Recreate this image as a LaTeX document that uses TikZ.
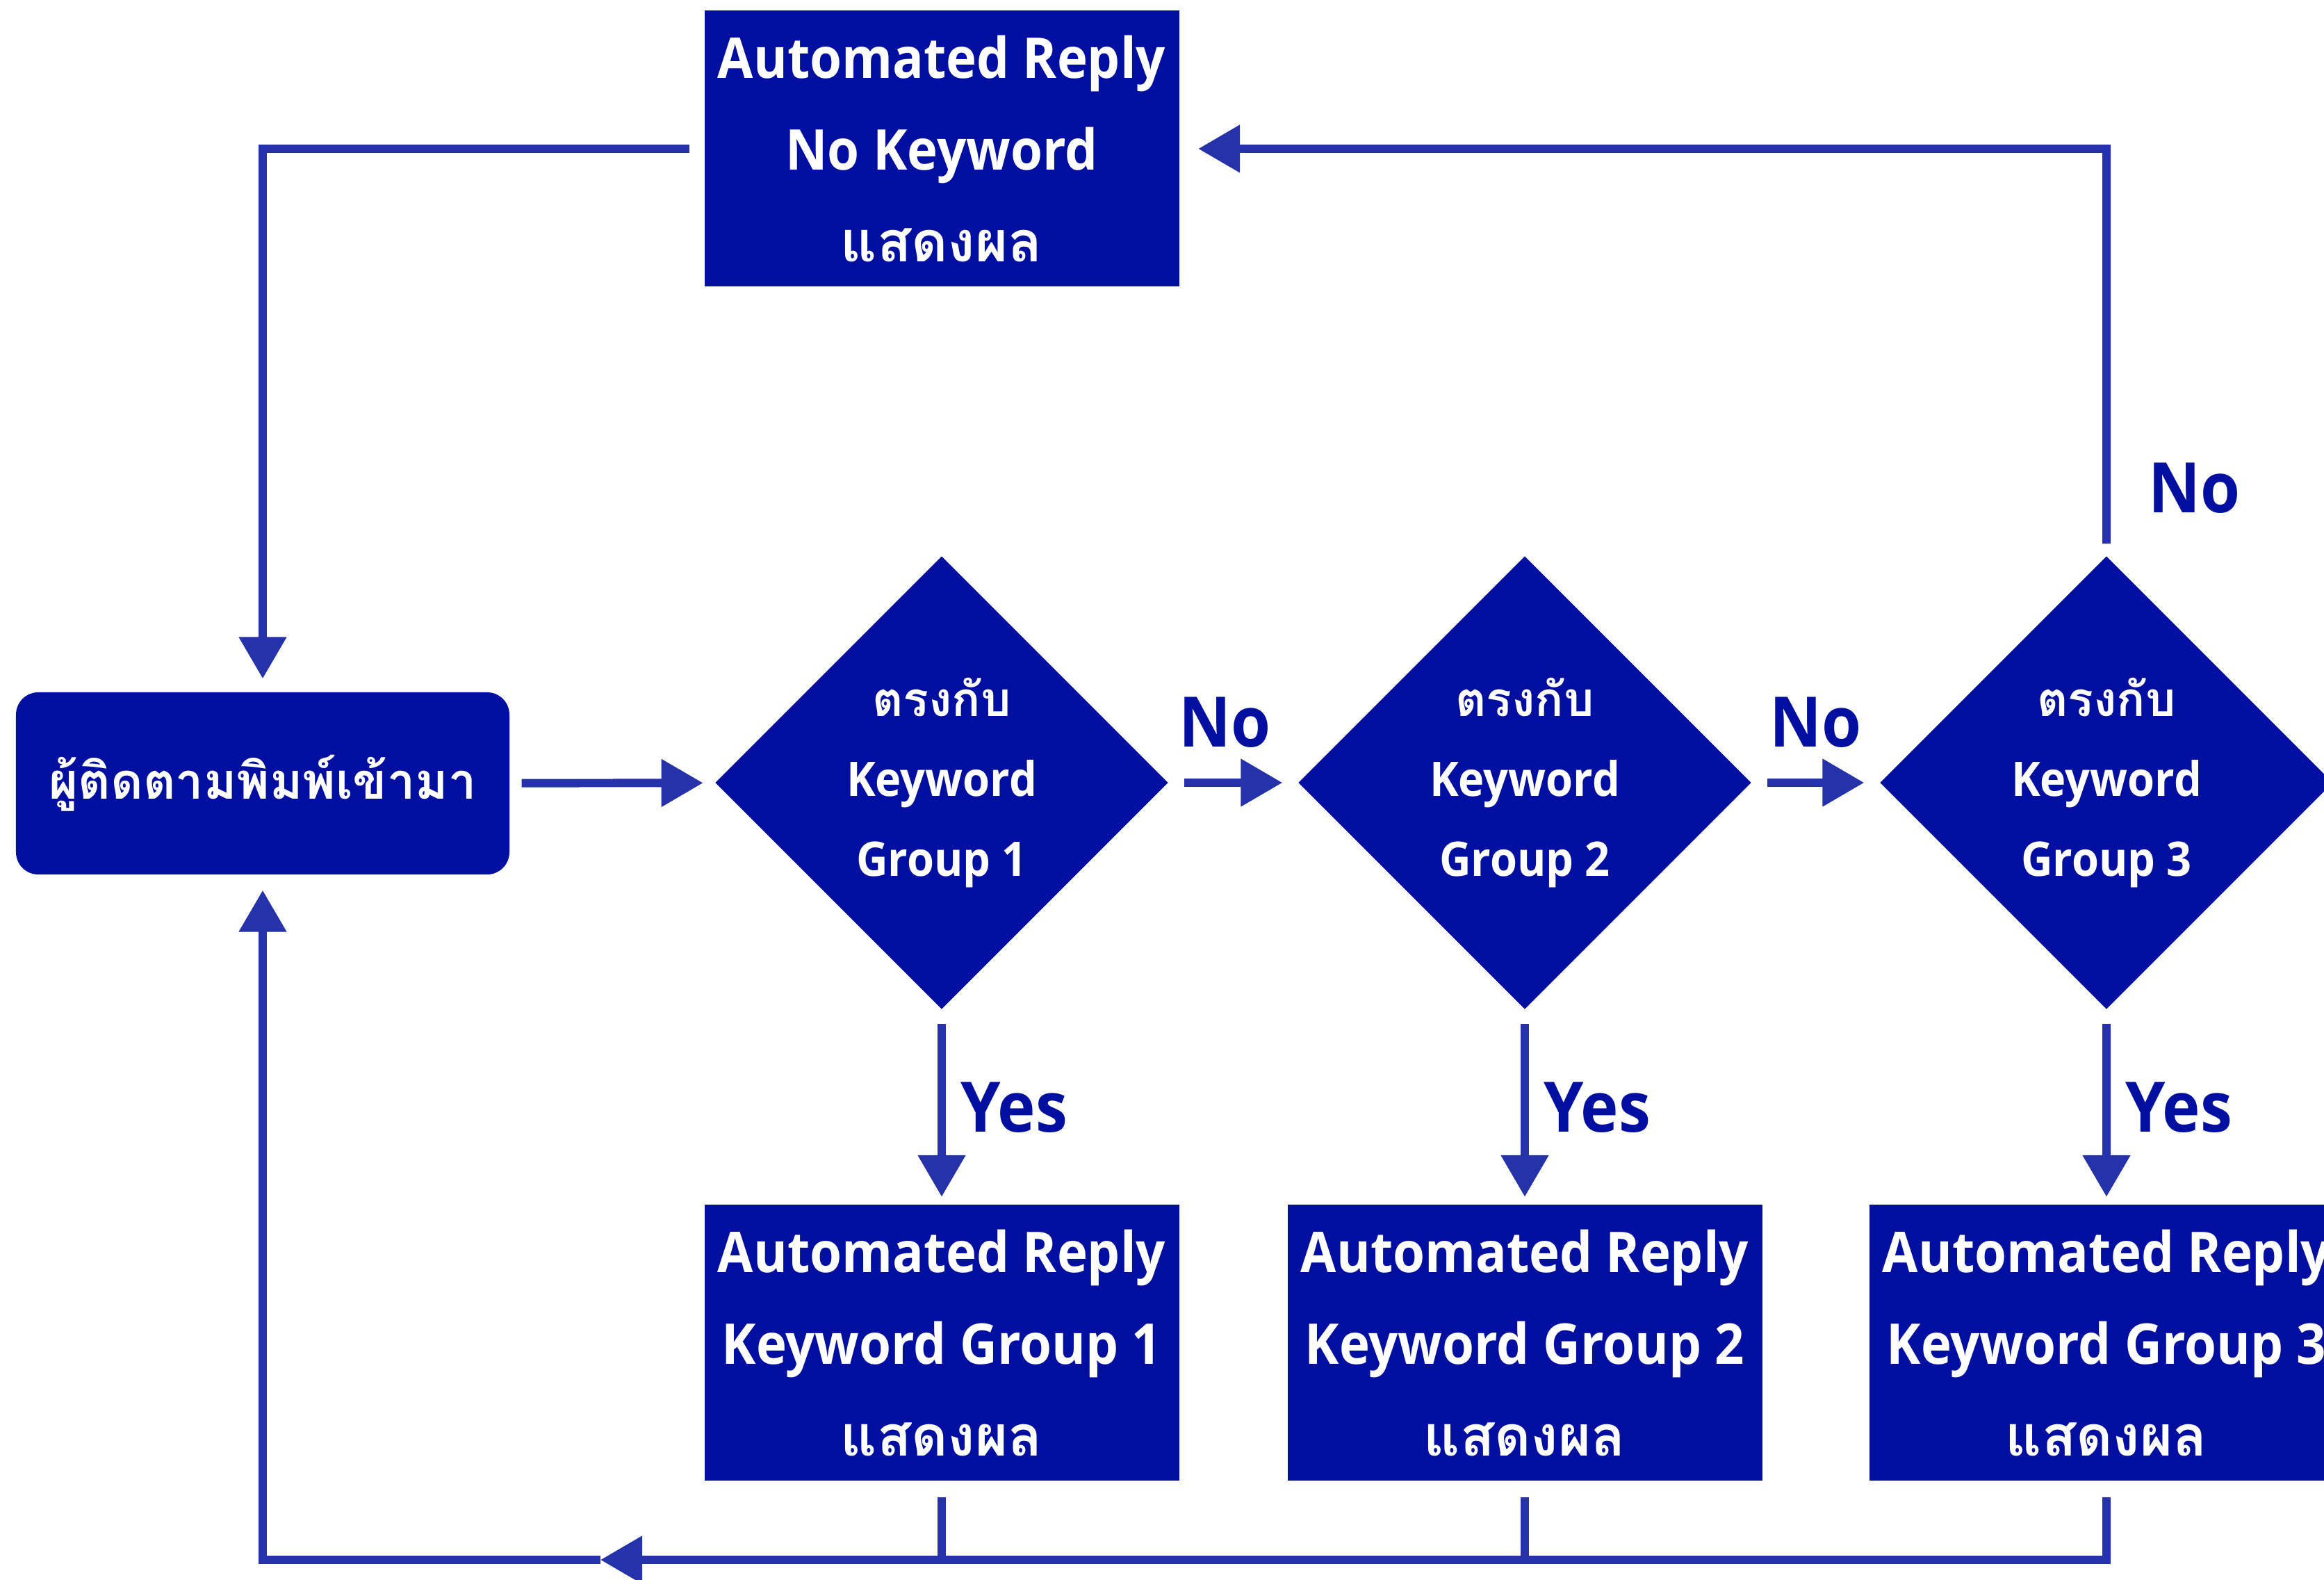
\documentclass[tikz,border=0pt]{standalone}
\usepackage{fontspec}
\setmainfont{Open Sans}[FakeStretch=0.92]
\newfontfamily\thaifont[Script=Thai]{Loma}
\usetikzlibrary{shapes.geometric, arrows.meta, positioning, calc}
\definecolor{boxBlue}{HTML}{000F9F}
\definecolor{chalkBlue}{HTML}{2632AA}

\begin{document}
\begin{tikzpicture}[
  reply/.style={fill=boxBlue, text=white, minimum width=6.83cm, minimum height=3.97cm, inner sep=0pt, align=center, font=\fontsize{23}{37.6}\selectfont\bfseries},
  decision/.style={diamond, aspect=1, fill=boxBlue, text=white, minimum width=6.52cm, minimum height=6.52cm, inner sep=0pt, align=center, font=\fontsize{19.5}{32.7}\selectfont\bfseries},
  startbox/.style={fill=boxBlue, text=white, rounded corners=0.32cm, minimum width=7.1cm, minimum height=2.62cm, align=center, font=\fontsize{20.5}{26}\selectfont\bfseries},
  conn/.style={draw=chalkBlue, line width=3.4pt, -{Triangle[length=0.6cm, width=0.66cm]}},
  plainline/.style={draw=chalkBlue, line width=3.4pt},
  answer/.style={text=boxBlue, inner sep=0pt, font=\fontsize{28.5}{34}\selectfont\bfseries}
]
  \useasboundingbox (0,0) rectangle (33.44,-22.73);
  \clip (0,0) rectangle (33.44,-22.73);

  % nodes
  \node[startbox] (start) at (3.78,-11.27) {\thaifont\bfseries ผู้ติดตามพิมพ์เข้ามา};

  \node[decision] (d1) at (13.55,-11.26) {{\thaifont\bfseries ตรงกับ}\\Keyword\\Group 1};
  \node[decision] (d2) at (21.94,-11.26) {{\thaifont\bfseries ตรงกับ}\\Keyword\\Group 2};
  \node[decision] (d3) at (30.31,-11.26) {{\thaifont\bfseries ตรงกับ}\\Keyword\\Group 3};

  \node[reply] (r0) at (13.55,-2.14) {Automated Reply\\No Keyword\\{\thaifont\bfseries แสดงผล}};
  \node[reply] (r1) at (13.55,-19.32) {Automated Reply\\Keyword Group 1\\{\thaifont\bfseries แสดงผล}};
  \node[reply] (r2) at (21.94,-19.32) {Automated Reply\\Keyword Group 2\\{\thaifont\bfseries แสดงผล}};
  \node[reply] (r3) at (30.31,-19.32) {Automated Reply\\Keyword Group 3\\{\thaifont\bfseries แสดงผล}};

  \coordinate (bus) at (0,-22.44);
  \coordinate (midtip) at (8.64,-22.44);

  % main flow
  \draw[conn, shorten <=0.17cm, shorten >=0.17cm] (start) -- (d1);
  \draw[conn, shorten <=0.22cm, shorten >=0.22cm] (d1) -- node[answer, above=0.45cm, xshift=-0.12cm] {No} (d2);
  \draw[conn, shorten <=0.22cm, shorten >=0.22cm] (d2) -- node[answer, above=0.45cm] {No} (d3);

  % yes branches
  \draw[conn, shorten <=0.2cm, shorten >=0.11cm] (d1) -- node[answer, right=0.22cm] {Yes} (r1);
  \draw[conn, shorten <=0.2cm, shorten >=0.11cm] (d2) -- node[answer, right=0.22cm] {Yes} (r2);
  \draw[conn, shorten <=0.2cm, shorten >=0.11cm] (d3) -- node[answer, right=0.22cm] {Yes} (r3);

  % no keyword loop
  \draw[conn, shorten <=0.17cm, shorten >=0.27cm] (d3.north) -- (d3.north |- r0) -- (r0.east);
  \node[answer, above right=0.6cm and 0.6cm of d3.north] (noTop) {No};
  \draw[conn, shorten <=0.21cm, shorten >=0.19cm] (r0.west) -- (start |- r0) -- (start.north);

  % back to start
  \draw[plainline, shorten <=0.23cm] (r1.south) -- (r1.south |- bus);
  \draw[plainline, shorten <=0.23cm] (r2.south) -- (r2.south |- bus);
  \draw[conn, shorten <=0.23cm] (r3.south) -- (r3.south |- bus) -- (midtip);
  \draw[conn, shorten >=0.22cm] (midtip) -- (start |- bus) -- (start.south);
\end{tikzpicture}
\end{document}
